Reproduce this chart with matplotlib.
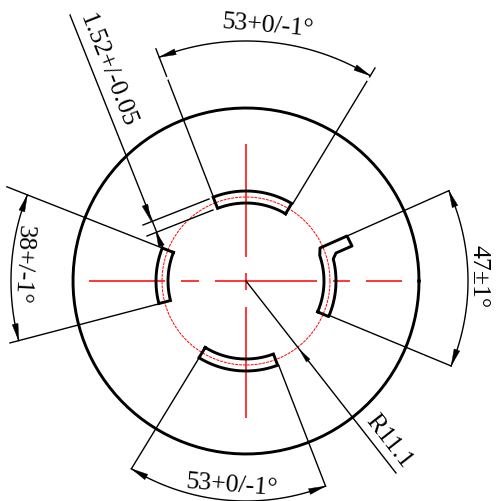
import numpy as np
import matplotlib
matplotlib.use("Agg")
import matplotlib.pyplot as plt
from matplotlib.patches import Polygon

# everything in picture pixels, angles in degrees ccw from +x
center = (246, 281)
outer_r = 173
ref_r = 84
key_in_r = 78
key_out_r = 90

top_key = (59.5, 111.4)
left_key = (158.5, 194.5)
bottom_key = (238.5, 290.6)
right_key = (-23.3, 19.0, 14.2)
wing_x = [320, 347, 352, 336]
wing_y = [248, 236, 246, 253]

h_dashes = [(89, 165), (181, 199), (215, 317), (333, 350), (366, 402)]
v_dashes = [(144, 257), (273, 290), (307, 418)]

# (angle a, ext length a, angle b, ext length b, arc radius)
dim_top = (111.2, 249, 58.8, 249, 240)
dim_left = (158.5, 257, 194.7, 244, 235)
dim_right = (24.0, 222, -22.5, 222, 222)
dim_bottom = (238.6, 220, 291.2, 220, 220)

# small breaks in the top extension lines: (angle, from r, to r)
ext_gaps = [(111.2, 216, 219), (58.8, 234, 238)]

leader_end = (396, 473)
gauge_x = [70, 163]
gauge_y = [15, 248]
gauge_ext1 = [(143, 225), (209, 199)]
gauge_ext2 = [(147, 236), (213, 210)]

labels = ["53+0/-1°", "53+0/-1°", "38+/-1°", "47±1°", "1.52+/-0.05", "R11.1"]
label_x = [268, 232, 23, 479, 107, 389]
label_y = [26, 486, 265, 277, 71, 441]
label_rot = [-5, -4.5, -93, -90, -68.5, -52]

fig = plt.figure(figsize=(5.01, 5.01), dpi=100)
ax = fig.add_axes([0, 0, 1, 1])
ax.set_xlim(0, 501)
ax.set_ylim(501, 0)
ax.axis("off")


def pol(r, a):
    a = np.radians(a)
    return center[0] + r * np.cos(a), center[1] - r * np.sin(a)


def arc(r, a0, a1):
    t = np.linspace(a0, a1, 120)
    return pol(r, t)


def arrow(tip, toward, length=17, width=6):
    tip = np.array(tip, float)
    d = np.array(toward, float) - tip
    d = d / np.hypot(*d)
    n = np.array([-d[1], d[0]])
    base = tip + d * length
    ax.add_patch(Polygon([tip, base + n * width / 2, base - n * width / 2], fc="k", ec="k", lw=0.3, zorder=4))


def key(a0, a1):
    x1, y1 = arc(key_in_r, a0, a1)
    x2, y2 = arc(key_out_r, a1, a0)
    ax.plot(np.r_[x1, x2, x1[0]], np.r_[y1, y2, y1[0]], color="k", lw=2.1, solid_joinstyle="miter", zorder=3)


def dim(a0, l0, a1, l1, r):
    for a, l in ((a0, l0), (a1, l1)):
        x, y = zip(pol(key_out_r, a), pol(l, a))
        ax.plot(x, y, color="k", lw=1.0)
    x, y = arc(r, a0, a1)
    ax.plot(x, y, color="k", lw=1.0)
    step = 5 if a1 > a0 else -5
    arrow(pol(r, a0), pol(r, a0 + step))
    arrow(pol(r, a1), pol(r, a1 - step))


# red centre lines and reference circle
for a, b in h_dashes:
    ax.plot([a, b], [center[1], center[1]], color="red", lw=1.1, solid_capstyle="butt")
for a, b in v_dashes:
    ax.plot([center[0], center[0]], [a, b], color="red", lw=1.1, solid_capstyle="butt")
x, y = arc(ref_r, 0, 360)
ax.plot(x, y, color="red", lw=0.7, ls=(0, (3, 1)))

# body
x, y = arc(outer_r, 0, 360)
ax.plot(x, y, color="k", lw=2.1)
key(*top_key)
key(*left_key)
key(*bottom_key)

a0, a1, a2 = right_key
x1, y1 = arc(key_in_r, a0, a1)
x2, y2 = arc(key_out_r, a2, a0)
ax.plot(np.r_[x1, wing_x, x2, x1[0]], np.r_[y1, wing_y, y2, y1[0]], color="k", lw=2.1,
        solid_joinstyle="round", zorder=3)

# dimensions
dim(*dim_top)
dim(*dim_left)
dim(*dim_right)
dim(*dim_bottom)
for a, r0, r1 in ext_gaps:
    x, y = zip(pol(r0, a), pol(r1, a))
    ax.plot(x, y, color="w", lw=1.6, solid_capstyle="butt", zorder=2.5)

# radius leader
ax.plot([center[0], leader_end[0]], [center[1], leader_end[1]], color="k", lw=1.0)
tip = pol(87, np.degrees(np.arctan2(center[1] - leader_end[1], leader_end[0] - center[0])))
arrow(tip, leader_end, length=14, width=4.5)

# 1.52 gauge
ax.plot(gauge_x, gauge_y, color="k", lw=1.0)
for p, q in (gauge_ext1, gauge_ext2):
    ax.plot([p[0], q[0]], [p[1], q[1]], color="k", lw=1.0)
arrow((151, 221), (143, 200))
arrow((156, 232), (163, 250), length=15)

for s, tx, ty, rot in zip(labels, label_x, label_y, label_rot):
    ax.text(tx, ty, s, rotation=rot, rotation_mode="anchor", ha="center", va="center",
            fontsize=18.5, family="Liberation Serif")

fig.savefig("out.png", dpi=100)
